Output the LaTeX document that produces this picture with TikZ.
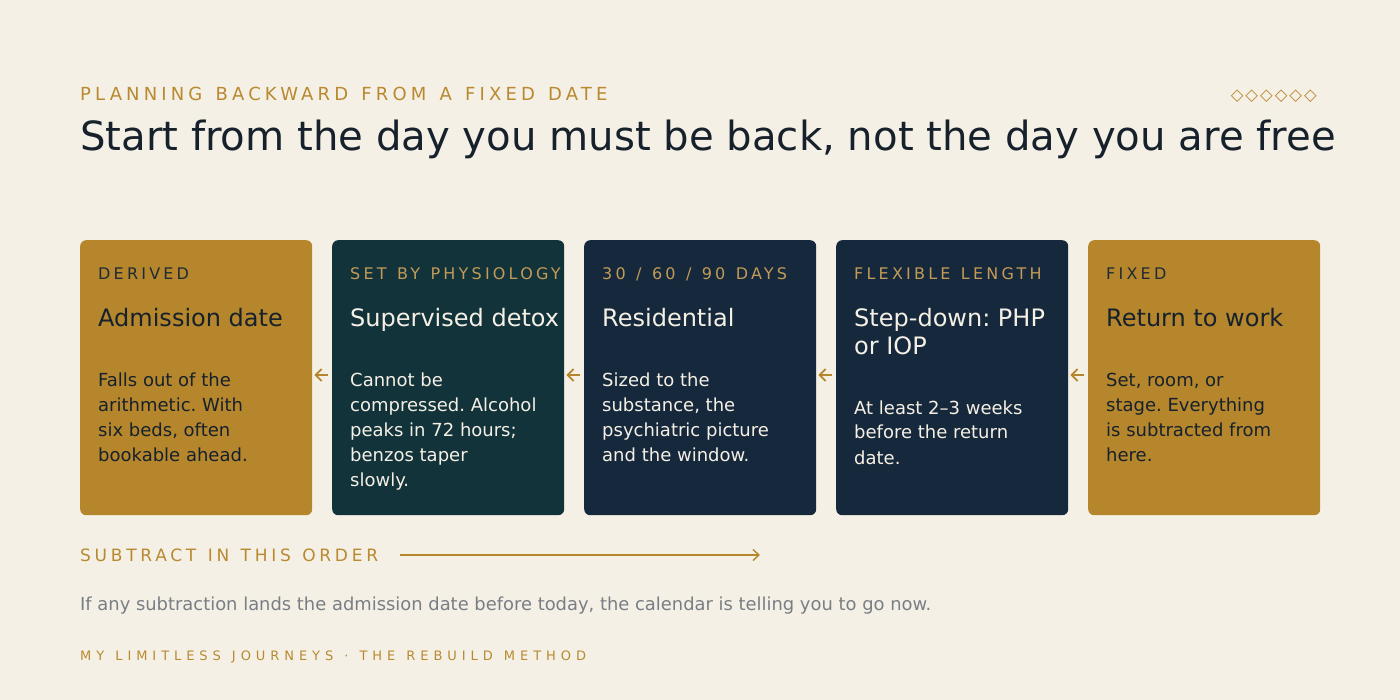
\documentclass[tikz,border=0pt]{standalone}
\usepackage{fontspec}
\setmainfont{DejaVu Sans}
\newfontfamily\spacedfont[LetterSpace=20, WordSpace=1.26]{DejaVu Sans}
\newfontfamily\kickerfont[LetterSpace=23, WordSpace=1.34]{DejaVu Sans}
\newfontfamily\orderfont[LetterSpace=22, WordSpace=1.25]{DejaVu Sans}
\newfontfamily\widefont[LetterSpace=38, WordSpace=1.22]{DejaVu Sans}
\newfontfamily\markfont[LetterSpace=12]{DejaVu Sans}
\usetikzlibrary{arrows.meta, positioning}
\frenchspacing

\definecolor{paper}{HTML}{F5F0E6}
\definecolor{gold}{HTML}{B5862C}
\definecolor{goldtext}{HTML}{B8892F}
\definecolor{goldsoft}{HTML}{C29B57}
\definecolor{navy}{HTML}{16283B}
\definecolor{teal}{HTML}{12333A}
\definecolor{ink}{HTML}{16212C}
\definecolor{inksoft}{HTML}{1F2A35}
\definecolor{cream}{HTML}{F5F0E6}
\definecolor{slate}{HTML}{797E84}

\tikzset{
    card/.style={rounded corners=6pt, minimum width=232pt, minimum height=275pt, anchor=north west, inner sep=0pt},
    tag/.style={anchor=base west, inner sep=0pt, font=\spacedfont\fontsize{16}{16}\selectfont},
    head/.style={anchor=base west, inner sep=0pt, align=left, font=\fontsize{24}{28}\selectfont},
    body/.style={anchor=base west, inner sep=0pt, align=left, font=\fontsize{18}{25}\selectfont},
    back/.style={-{Straight Barb[length=6pt, width=12pt]}, line width=1.7pt, draw=gold, shorten >=2pt, shorten <=4pt}
}

\begin{document}
\begin{tikzpicture}[x=1pt, y=-1pt]
    \fill[paper] (0, 0) rectangle (1400, 700);
    \useasboundingbox (0, 0) rectangle (1400, 700);

    % header
    \node[anchor=base west, inner sep=0pt, text=goldtext, font=\kickerfont\fontsize{18}{18}\selectfont] at (80, 101) (kicker) {PLANNING BACKWARD FROM A FIXED DATE};
    \node[anchor=base west, inner sep=0pt, text=ink, font=\fontsize{40.2}{40}\selectfont] at (80, 151) (title) {Start from the day you must be back, not the day you are free};
    \node[anchor=base east, inner sep=0pt, text=goldtext, font=\markfont\fontsize{16.5}{16}\selectfont] at (1317, 101) (marks) {◇◇◇◇◇◇};

    % cards
    \node[card, fill=gold] at (80, 240)   (derived) {};
    \node[card, fill=teal] at (332, 240)  (detox) {};
    \node[card, fill=navy] at (584, 240)  (resid) {};
    \node[card, fill=navy] at (836, 240)  (stepdown) {};
    \node[card, fill=gold] at (1088, 240) (work) {};

    % base anchor sits on the last line
    \node[tag, text=inksoft] at ([shift={(18pt,-40pt)}]derived.north west) {DERIVED};
    \node[head, text=ink] at ([shift={(18pt,-87pt)}]derived.north west) {Admission date};
    \node[body, text=ink] at ([shift={(18pt,-221pt)}]derived.north west) {Falls out of the\\arithmetic. With\\six beds, often\\bookable ahead.};

    \node[tag, text=goldsoft] at ([shift={(18pt,-40pt)}]detox.north west) {SET BY PHYSIOLOGY};
    \node[head, text=cream] at ([shift={(18pt,-87pt)}]detox.north west) {Supervised detox};
    \node[body, text=cream] at ([shift={(18pt,-246pt)}]detox.north west) {Cannot be\\compressed. Alcohol\\peaks in 72 hours;\\benzos taper\\slowly.};

    \node[tag, text=goldsoft] at ([shift={(18pt,-40pt)}]resid.north west) {30 / 60 / 90 DAYS};
    \node[head, text=cream] at ([shift={(18pt,-87pt)}]resid.north west) {Residential};
    \node[body, text=cream] at ([shift={(18pt,-221pt)}]resid.north west) {Sized to the\\substance, the\\psychiatric picture\\and the window.};

    \node[tag, text=goldsoft] at ([shift={(18pt,-40pt)}]stepdown.north west) {FLEXIBLE LENGTH};
    \node[head, text=cream] at ([shift={(18pt,-115pt)}]stepdown.north west) {Step-down: PHP\\or IOP};
    \node[body, text=cream] at ([shift={(18pt,-224pt)}]stepdown.north west) {At least 2–3 weeks\\before the return\\date.};

    \node[tag, text=inksoft] at ([shift={(18pt,-40pt)}]work.north west) {FIXED};
    \node[head, text=ink] at ([shift={(18pt,-87pt)}]work.north west) {Return to work};
    \node[body, text=ink] at ([shift={(18pt,-221pt)}]work.north west) {Set, room, or\\stage. Everything\\is subtracted from\\here.};

    % backward arrows
    \draw[back] ([yshift=-135pt]work.north west) -- ([yshift=-135pt]stepdown.north east);
    \draw[back] ([yshift=-135pt]stepdown.north west) -- ([yshift=-135pt]resid.north east);
    \draw[back] ([yshift=-135pt]resid.north west) -- ([yshift=-135pt]detox.north east);
    \draw[back] ([yshift=-135pt]detox.north west) -- ([yshift=-135pt]derived.north east);

    % footer
    \node[anchor=base west, inner sep=0pt, text=goldtext, font=\orderfont\fontsize{17}{17}\selectfont] at (80, 561) (order) {SUBTRACT IN THIS ORDER};
    \coordinate (orderstart) at (400, 555);
    \coordinate (orderend) at (760, 555);
    \draw[-{Straight Barb[length=6pt, width=11pt]}, line width=1.4pt, draw=gold] (orderstart) -- (orderend);
    \node[anchor=base west, inner sep=0pt, text=slate, font=\fontsize{17.9}{18}\selectfont] at (80, 610) (note) {If any subtraction lands the admission date before today, the calendar is telling you to go now.};
    \node[anchor=base west, inner sep=0pt, text=goldtext, font=\widefont\fontsize{13}{13}\selectfont] at (80, 660) (brand) {MY LIMITLESS JOURNEYS · THE REBUILD METHOD};
\end{tikzpicture}
\end{document}
